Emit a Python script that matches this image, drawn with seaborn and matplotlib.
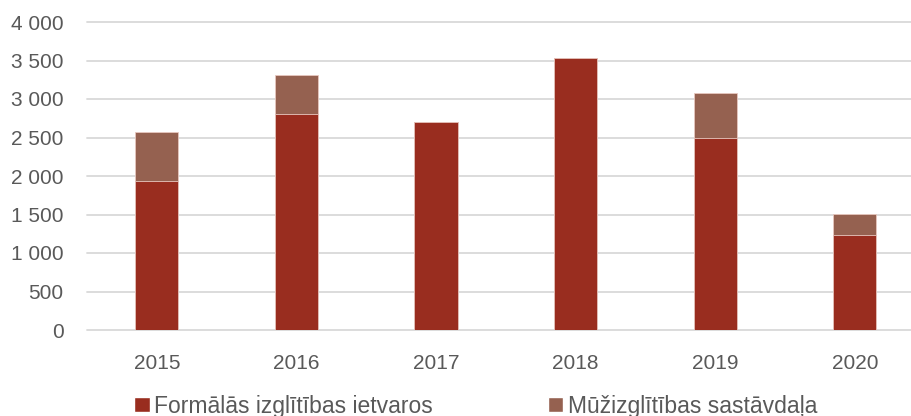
import matplotlib
matplotlib.use("Agg")
import matplotlib.pyplot as plt
import seaborn as sns
import pandas as pd
from matplotlib.patches import Patch

# values
years = ["2015", "2016", "2017", "2018", "2019", "2020"]
formal = [1930, 2800, 2700, 3530, 2500, 1230]
lifelong = [640, 510, 0, 0, 580, 280]
series_names = ["Formālās izglītības ietvaros", "Mūžizglītības sastāvdaļa"]
ytick_vals = [0, 500, 1000, 1500, 2000, 2500, 3000, 3500, 4000]
ytick_labels = ["0", "500", "1 000", "1 500", "2 000", "2 500", "3 000", "3 500", "4 000"]

red = "#992D1F"
brown = "#956150"
grey_text = "#595959"

sns.set_style("white")
plt.rcParams["font.family"] = ["Liberation Sans", "DejaVu Sans"]

df = pd.DataFrame({"year": years, "formal": formal, "lifelong": lifelong})
df["total"] = df["formal"] + df["lifelong"]

fig = plt.figure(figsize=(9.12, 4.16), dpi=100)
ax = fig.add_axes([87 / 912, 86 / 416, 825 / 912, 308 / 416])

# stacked look: total in brown, formal part drawn over it in red
sns.barplot(data=df, x="year", y="total", color=brown, width=0.31,
            edgecolor="#E8C8C0", linewidth=0.6, saturation=1, ax=ax, zorder=3)
sns.barplot(data=df, x="year", y="formal", color=red, width=0.31,
            edgecolor="#E8C8C0", linewidth=0.6, saturation=1, ax=ax, zorder=4)

ax.set_xlim(-0.5, 5.41)
ax.set_ylim(0, 4000)
ax.set_yticks(ytick_vals)
ax.set_yticklabels(ytick_labels)
ax.set_xlabel("")
ax.set_ylabel("")
for s in ax.spines.values():
    s.set_visible(False)
ax.yaxis.grid(True, color="#D9D9D9", linewidth=1.3, zorder=0)
ax.set_axisbelow(True)
for gl in ax.get_ygridlines():
    gl.set_clip_on(False)
ax.tick_params(axis="y", length=0, pad=17, labelsize=15, labelcolor=grey_text)
ax.tick_params(axis="x", length=0, pad=17, labelsize=15, labelcolor=grey_text)

handles = [Patch(facecolor=red), Patch(facecolor=brown)]
fig.legend(handles, series_names, loc="center left",
           bbox_to_anchor=(134 / 912, 10 / 416), ncol=2, frameon=False,
           fontsize=16.5, labelcolor=grey_text, handlelength=0.68, handleheight=0.68,
           handletextpad=0.2, columnspacing=5.0, borderpad=0, borderaxespad=0)

fig.savefig("out.png", dpi=100)
